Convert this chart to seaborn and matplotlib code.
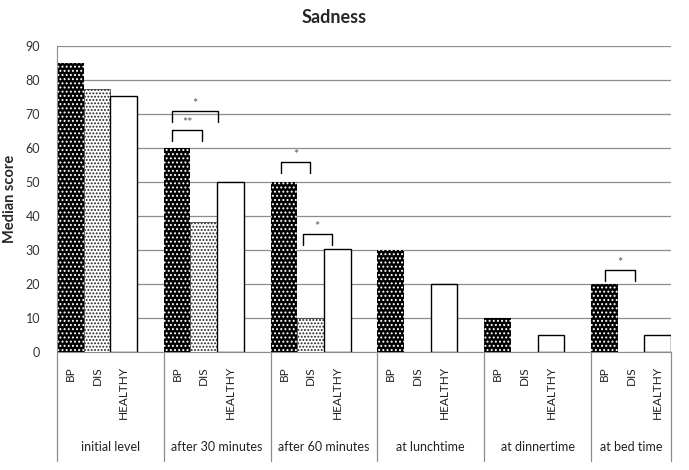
import pandas as pd
import matplotlib.pyplot as plt
import matplotlib.transforms as mtransforms
import seaborn as sns

# Data
times = ["initial level", "after 30 minutes", "after 60 minutes",
         "at lunchtime", "at dinnertime", "at bed time"]
groups = ["BP", "DIS", "HEALTHY"]
bp = [85, 60, 50, 30, 10, 20]
dis = [77.3, 38.3, 10, 0, 0, 0]
healthy = [75.2, 50, 30.3, 20, 5, 5]

# significance brackets: time index, start/end (in bar widths from group left), height, label
sig_time = [1, 1, 2, 2, 5]
sig_start = [0.31, 0.31, 0.38, 1.20, 0.52]
sig_end = [1.43, 2.03, 1.48, 2.30, 1.65]
sig_level = [65.3, 70.9, 55.9, 34.7, 24.1]
sig_label = ["**", "*", "*", "*", "*"]

df = pd.DataFrame({
    "time": times * 3,
    "group": [g for g in groups for _ in times],
    "score": bp + dis + healthy,
})

sns.set_style("white")
plt.rcParams["font.family"] = ["Lato", "DejaVu Sans"]
plt.rcParams["hatch.linewidth"] = 0.9

fig = plt.figure(figsize=(6.89, 4.70), dpi=100)
ax = fig.add_axes([0.0827, 0.251, 0.8913, 0.651])

sns.barplot(data=df, x="time", y="score", hue="group", order=times,
            hue_order=groups, width=0.75, ax=ax, legend=False,
            errorbar=None, saturation=1)

# bar styles
for p in ax.containers[0]:
    p.set_facecolor("black")
    p.set_edgecolor("white")
    p.set_hatch("....")
    p.set_linewidth(0)
for p in ax.containers[1]:
    p.set_facecolor("white")
    p.set_edgecolor("#222222")
    p.set_hatch(".....")
    p.set_linewidth(0.5)
for p in ax.containers[2]:
    p.set_facecolor("white")
    p.set_edgecolor("black")
    p.set_linewidth(1.0)

ax.set_xlim(-0.375, len(times) - 1 + 0.375)
ax.set_ylim(0, 90)
ax.set_yticks(range(0, 91, 10))
ax.yaxis.grid(True, color="#8c8c8c", linewidth=0.9)
ax.set_axisbelow(True)
for s in ["top", "right"]:
    ax.spines[s].set_visible(False)
ax.spines["left"].set_color("#8c8c8c")
ax.spines["bottom"].set_color("#8c8c8c")

# bar labels
pos, labs = [], []
for i in range(len(times)):
    for j, g in enumerate(groups):
        pos.append(i - 0.25 + 0.25 * j)
        labs.append(g)
ax.set_xticks(pos)
ax.set_xticklabels(labs, rotation=90, fontsize=8.5, color="#222222", va="top")
ax.tick_params(axis="x", length=0, pad=10)
ax.tick_params(axis="y", length=0, pad=12, labelsize=9, labelcolor="#333333")
ax.set_xlabel("")
ax.set_ylabel("Median score", fontsize=10.5, fontweight="bold", labelpad=6)

# group separators and group labels
trans = mtransforms.blended_transform_factory(ax.transData, ax.transAxes)
edges = [i - 0.375 for i in range(len(times))] + [len(times) - 1 + 0.375]
for e in edges:
    ax.plot([e, e], [0, -0.355], transform=trans, color="#8c8c8c",
            linewidth=0.9, clip_on=False)
for i, t in enumerate(times):
    c = (edges[i] + edges[i + 1]) / 2
    ax.text(c, -0.31, t, transform=trans, ha="center", va="center",
            fontsize=9, color="#222222")

# significance brackets
for t, a, b, y, lab in zip(sig_time, sig_start, sig_end, sig_level, sig_label):
    x0 = t - 0.375 + a * 0.25
    x1 = t - 0.375 + b * 0.25
    ax.plot([x0, x0, x1, x1], [y - 3.2, y, y, y - 3.2], color="black",
            linewidth=1.0, clip_on=False)
    ax.text((x0 + x1) / 2, y + 2.0, lab, ha="center", va="center",
            fontsize=9, color="#555555")

fig.text(0.485, 0.963, "Sadness", ha="center", va="center",
         fontsize=13, fontweight="bold")

fig.savefig("out.png", dpi=100)
plt.close(fig)
